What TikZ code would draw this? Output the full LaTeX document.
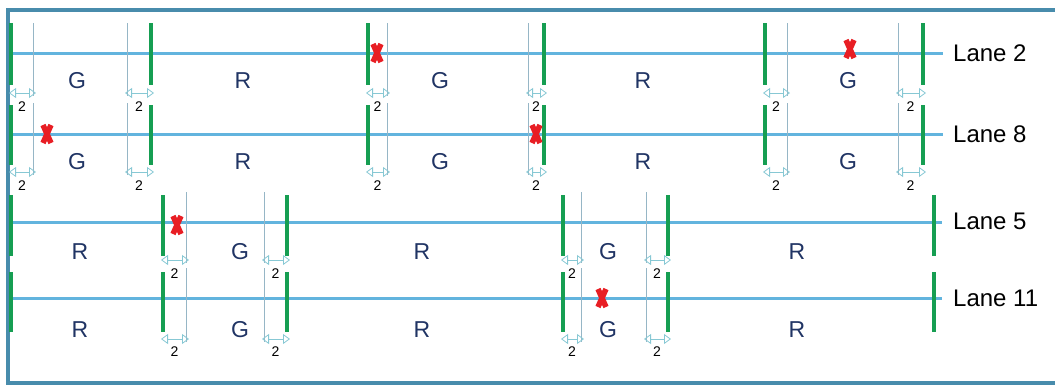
\documentclass[tikz,border=0pt]{standalone}
\usepackage{fontspec}
\setmainfont{Liberation Sans}
\usetikzlibrary{arrows.meta}

\definecolor{laneblue}{RGB}{98,180,222}
\definecolor{bargreen}{RGB}{22,158,82}
\definecolor{framecol}{RGB}{72,140,172}
\definecolor{thingray}{RGB}{150,182,198}
\definecolor{arrowcol}{RGB}{135,200,212}
\definecolor{phasecol}{RGB}{32,52,100}
\definecolor{xred}{RGB}{232,30,36}

\tikzset{
  lane/.style={laneblue, line width=3pt},
  greenbar/.style={bargreen, line width=3.2pt},
  thinline/.style={thingray, line width=0.7pt},
  gaparrow/.style={arrowcol, line width=0.8pt,
    {Triangle[open,length=7pt,width=10pt]}-{Triangle[open,length=7pt,width=10pt]}},
  gaplabel/.style={inner sep=0pt, font=\fontsize{14}{16}\selectfont},
  phase/.style={phasecol, inner sep=0pt, font=\fontsize{23}{27}\selectfont},
  lanelabel/.style={anchor=west, inner sep=0pt, font=\fontsize{24}{28}\selectfont},
  xmark/.style={xred, line width=5.5pt}
}

\begin{document}
\begin{tikzpicture}[x=1pt, y=-1pt]

  \useasboundingbox (0,0) rectangle (1055,386);

  % --- outer frame ---
  \draw[framecol, line width=4.5pt] (8,10) rectangle (1070,383);

  % --- lane lines and their names ---
  \node[lanelabel] (l2) at (953,53) {Lane 2};
  \node[lanelabel] (l8) at (953,134) {Lane 8};
  \node[lanelabel] (l5) at (953,221) {Lane 5};
  \node[lanelabel] (l11) at (953,298) {Lane 11};
  \coordinate (s2) at (9,53);
  \coordinate (s8) at (9,134);
  \coordinate (s5) at (9,222);
  \coordinate (s11) at (9,298);
  \draw[lane] (s2) -- ([xshift=-10pt]l2.west |- s2);
  \draw[lane] (s8) -- ([xshift=-10pt]l8.west |- s8);
  \draw[lane] (s5) -- ([xshift=-11pt]l5.west |- s5);
  \draw[lane] (s11) -- ([xshift=-11pt]l11.west |- s11);

  % --- lanes 2 and 8: green bar, thin line, gap of 2 ---
  \foreach \g/\t [count=\i] in {11/33,151/127,368/387,544/528,765/787,923/898}{
    % lane 2
    \draw[greenbar] (\g,23) -- (\g,85);
    \draw[thinline] (\t,23) -- (\t,96);
    \coordinate (a\i) at ({min(\g,\t)-2},93);
    \coordinate (b\i) at ({max(\g,\t)+3},93);
    \draw[gaparrow] (a\i) -- (b\i);
    \node[gaplabel] (ga\i) at ({(\g+\t)/2},107) {2};
    % lane 8
    \draw[greenbar] (\g,105) -- (\g,165);
    \draw[thinline] (\t,103) -- (\t,175);
    \coordinate (c\i) at ({min(\g,\t)-2},172);
    \coordinate (d\i) at ({max(\g,\t)+3},172);
    \draw[gaparrow] (c\i) -- (d\i);
    \node[gaplabel] (gb\i) at ({(\g+\t)/2},186) {2};
  }

  % --- lanes 5 and 11 ---
  \foreach \x in {11,934}{
    \draw[greenbar] (\x,195) -- (\x,256);
    \draw[greenbar] (\x,272) -- (\x,332);
  }
  \foreach \g/\t [count=\i] in {163/186,287/264,563/581,668/646}{
    % lane 5
    \draw[greenbar] (\g,195) -- (\g,256);
    \draw[thinline] (\t,192) -- (\t,263);
    \coordinate (e\i) at ({min(\g,\t)-2},260);
    \coordinate (f\i) at ({max(\g,\t)+3},260);
    \draw[gaparrow] (e\i) -- (f\i);
    \node[gaplabel] (gc\i) at ({(\g+\t)/2},274) {2};
    % lane 11
    \draw[greenbar] (\g,272) -- (\g,332);
    \draw[thinline] (\t,268) -- (\t,342);
    \coordinate (h\i) at ({min(\g,\t)-2},339);
    \coordinate (k\i) at ({max(\g,\t)+3},339);
    \draw[gaparrow] (h\i) -- (k\i);
    \node[gaplabel] (gd\i) at ({(\g+\t)/2},352) {2};
  }

  % --- phases (G / R) ---
  \foreach \p/\x [count=\i] in {G/77,R/243,G/440,R/643,G/848}{
    \node[phase] (pa\i) at (\x,81) {\p};
    \node[phase] (pb\i) at (\x,162) {\p};
  }
  \foreach \p/\x [count=\i] in {R/80,G/240,R/422,G/608,R/797}{
    \node[phase] (pc\i) at (\x,252) {\p};
    \node[phase] (pd\i) at (\x,330) {\p};
  }

  % --- red crosses ---
  \foreach \x/\y in {377/53,850/49,47/134,536/134,177/225,602/298}{
    \draw[xmark] ({\x-4},{\y-9}) -- ({\x+4},{\y+9})
                 ({\x+4},{\y-9}) -- ({\x-4},{\y+9});
  }

\end{tikzpicture}
\end{document}
